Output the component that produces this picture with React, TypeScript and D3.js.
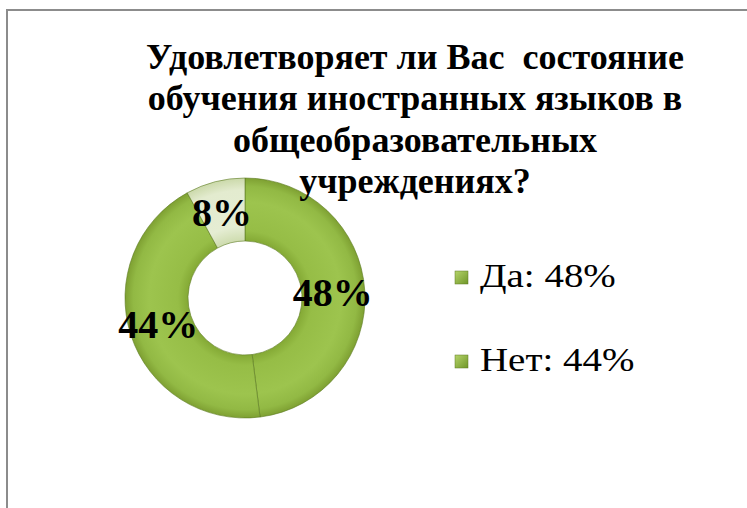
import React from "react";
import * as d3 from "d3";

const categories = ["Да", "Нет", "Затрудняюсь ответить"];
const values = [48, 44, 8];
const legendCategories = ["Да", "Нет"];
const titleLines = [
  "Удовлетворяет ли Вас  состояние",
  "обучения иностранных языков в",
  "общеобразовательных",
  "учреждениях?",
];

const W = 747;
const H = 508;
const cx = 245;
const cy = 298;
const outerR = 120;
const innerR = 57;

const serif = "Liberation Serif, Times New Roman, serif";

export default function App() {
  const pie = d3.pie<number>().sort(null).value((d) => d);
  const arcs = pie(values);
  const arc = d3.arc<d3.PieArcDatum<number>>().innerRadius(innerR).outerRadius(outerR);
  const labelArc = d3.arc<d3.PieArcDatum<number>>().innerRadius(88).outerRadius(88);
  const fills = ["url(#gGreen)", "url(#gGreen)", "url(#gPale)"];
  const labelOffsets = [
    [0, 0],
    [-3, -1],
    [-1, 0],
  ];

  return (
    <svg
      width={W}
      height={H}
      style={{ position: "absolute", left: 0, top: 0, display: "block", background: "#fff" }}
    >
      <defs>
        <radialGradient id="gGreen" gradientUnits="userSpaceOnUse" cx={0} cy={0} r={outerR}>
          <stop offset="0.47" stopColor="#83a834" />
          <stop offset="0.56" stopColor="#96bd46" />
          <stop offset="0.8" stopColor="#9dc44e" />
          <stop offset="0.93" stopColor="#92b944" />
          <stop offset="1" stopColor="#7ea032" />
        </radialGradient>
        <radialGradient id="gPale" gradientUnits="userSpaceOnUse" cx={0} cy={0} r={outerR}>
          <stop offset="0.47" stopColor="#cddbad" />
          <stop offset="0.6" stopColor="#e5edd3" />
          <stop offset="0.9" stopColor="#e3ebcf" />
          <stop offset="1" stopColor="#cbd9aa" />
        </radialGradient>
        <linearGradient id="gLeg" x1="0" y1="0" x2="1" y2="1">
          <stop offset="0" stopColor="#b5d46a" />
          <stop offset="1" stopColor="#6f9628" />
        </linearGradient>
      </defs>
      <rect x={7} y={10} width={W} height={H} fill="#fff" stroke="#8c8c8c" strokeWidth={2} />
      <g transform={`translate(${cx},${cy})`}>
        {arcs.map((a, i) => (
          <path key={categories[i]} d={arc(a) || ""} fill={fills[i]} stroke="#5d7a22" strokeWidth={0.6} />
        ))}
      </g>
      {arcs.map((a, i) => {
        const [x, y] = labelArc.centroid(a);
        return (
          <text
            key={"l" + i}
            x={cx + x + labelOffsets[i][0]}
            y={cy + y + labelOffsets[i][1]}
            textAnchor="middle"
            dominantBaseline="central"
            style={{ fontFamily: serif, fontWeight: "bold", fontSize: 40 }}
            fill="#000"
          >
            {values[i]}%
          </text>
        );
      })}
      {titleLines.map((t, i) => (
        <text
          key={t}
          x={415}
          y={69 + i * 41.3}
          textAnchor="middle"
          fill="#000"
          style={{ fontFamily: serif, fontWeight: "bold", fontSize: 36, whiteSpace: "pre" }}
        >
          {t}
        </text>
      ))}
      {legendCategories.map((c, i) => (
        <g key={c} transform={`translate(455, ${271 + i * 84})`}>
          <rect x={0} y={0} width={13} height={13} fill="url(#gLeg)" stroke="#5d7a22" strokeWidth={0.5} />
          <text
            x={0}
            y={16}
            fill="#000"
            transform="translate(25,0) scale(1.146,1)"
            style={{ fontFamily: serif, fontSize: 34 }}
          >
            {c}: {values[i]}%
          </text>
        </g>
      ))}
    </svg>
  );
}
